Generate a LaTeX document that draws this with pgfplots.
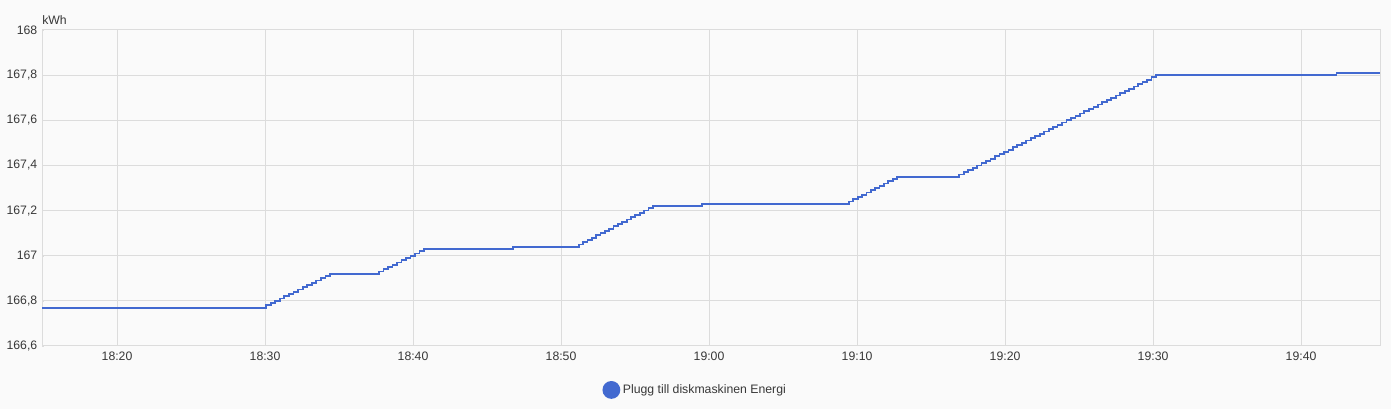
\documentclass[border=0pt]{standalone}
\usepackage{fontspec}
\setmainfont{Liberation Sans}
\usepackage{pgfplots}
\pgfplotsset{compat=1.18}
\definecolor{bg}{HTML}{FAFAFA}
\definecolor{gridc}{HTML}{DCDCDC}
\definecolor{txt}{HTML}{383838}
\definecolor{energy}{HTML}{4269D0}

\begin{document}
\begin{tikzpicture}
\fill[bg] (0,0) rectangle (1043.25pt,306.75pt);
\begin{axis}[
  at={(31.5pt,47.25pt)}, anchor=south west,
  width=1003.5pt, height=237pt, scale only axis,
  clip mode=individual,
  xmin=14.93, xmax=105.34,
  ymin=166.6, ymax=168,
  xtick={20,30,...,100},
  xticklabels={18:20,18:30,18:40,18:50,19:00,19:10,19:20,19:30,19:40},
  ytick={166.6,166.8,...,168.01},
  yticklabel style={/pgf/number format/.cd,use comma,1000 sep={},fixed,precision=1,assume math mode=true},
  tick label style={font=\fontsize{9.2}{11}\selectfont, text=txt},
  xtick pos=bottom, ytick pos=left,
  major tick length=1.5pt,
  tick style={gridc},
  grid=major,
  major grid style={gridc, line width=0.75pt},
  axis line style={gridc, line width=0.75pt},
  xticklabel shift=1pt,
  yticklabel shift=0pt,
  legend style={at={(0.4884,-0.139)}, anchor=center, draw=none, fill=none,
    font=\fontsize{9.2}{11}\selectfont, text=txt},
  legend image code/.code={\fill[energy] (0.1cm,0) circle (6pt);},
]
\addplot[const plot, energy, line width=1.35pt] coordinates {
(14.93,166.77)
(30.07,166.78) (30.38,166.79) (30.69,166.80) (31.00,166.81) (31.30,166.82)
(31.61,166.83) (31.92,166.84) (32.23,166.85) (32.54,166.86) (32.85,166.87)
(33.16,166.88) (33.46,166.89) (33.77,166.90) (34.08,166.91) (34.39,166.92)
(37.70,166.93) (38.00,166.94) (38.31,166.95) (38.61,166.96) (38.92,166.97)
(39.22,166.98) (39.52,166.99) (39.83,167.00) (40.13,167.01) (40.44,167.02)
(40.74,167.03)
(46.76,167.04)
(51.20,167.05) (51.49,167.06) (51.79,167.07) (52.08,167.08) (52.38,167.09)
(52.67,167.10) (52.96,167.11) (53.26,167.12) (53.55,167.13) (53.85,167.14)
(54.14,167.15) (54.44,167.16) (54.73,167.17) (55.02,167.18) (55.32,167.19)
(55.61,167.20) (55.91,167.21) (56.20,167.22)
(59.50,167.23)
(69.46,167.24) (69.75,167.25) (70.05,167.26) (70.34,167.27) (70.64,167.28)
(70.93,167.29) (71.23,167.30) (71.52,167.31) (71.82,167.32) (72.11,167.33)
(72.41,167.34) (72.70,167.35)
(76.90,167.36) (77.20,167.37) (77.50,167.38) (77.81,167.39) (78.11,167.40)
(78.41,167.41) (78.71,167.42) (79.02,167.43) (79.32,167.44) (79.62,167.45)
(79.92,167.46) (80.23,167.47) (80.53,167.48) (80.83,167.49) (81.13,167.50)
(81.43,167.51) (81.74,167.52) (82.04,167.53) (82.34,167.54) (82.64,167.55)
(82.95,167.56) (83.25,167.57) (83.55,167.58) (83.85,167.59) (84.15,167.60)
(84.46,167.61) (84.76,167.62) (85.06,167.63) (85.36,167.64) (85.67,167.65)
(85.97,167.66) (86.27,167.67) (86.57,167.68) (86.87,167.69) (87.18,167.70)
(87.48,167.71) (87.78,167.72) (88.08,167.73) (88.39,167.74) (88.69,167.75)
(88.99,167.76) (89.29,167.77) (89.60,167.78) (89.90,167.79) (90.20,167.80)
(102.40,167.81)
(105.34,167.81)
};
\addlegendentry{Plugg till diskmaskinen Energi}
\node[anchor=south west, inner sep=0pt, font=\fontsize{9.2}{11}\selectfont, text=txt]
  at (rel axis cs:0,1) [yshift=4pt] {kWh};
\end{axis}
\pgfresetboundingbox
\path (0,0) rectangle (1043.25pt,306.75pt);
\end{tikzpicture}
\end{document}
